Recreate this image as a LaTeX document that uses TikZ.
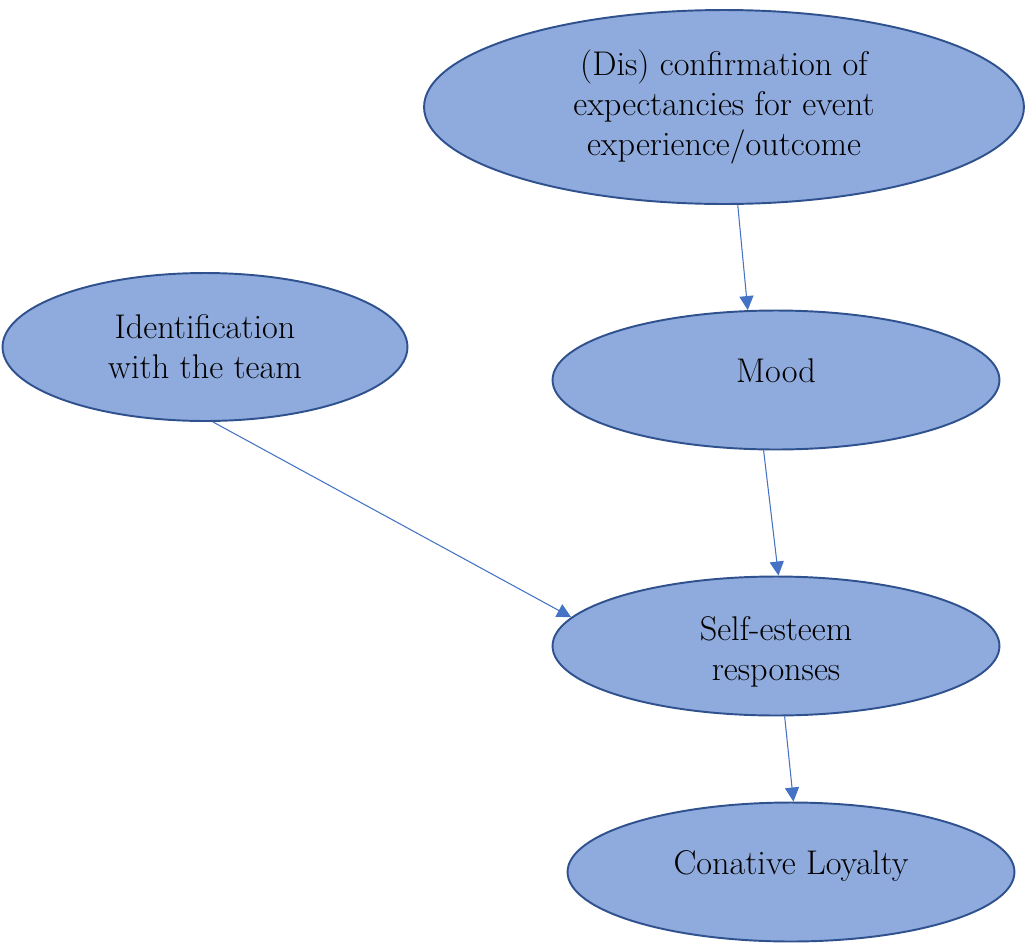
\documentclass[tikz,border=0pt]{standalone}
\usetikzlibrary{shapes.geometric,arrows.meta}
\definecolor{fillblue}{HTML}{8FAADC}
\definecolor{edgeblue}{HTML}{2F528F}
\definecolor{arrowblue}{HTML}{4472C4}
\tikzset{
  oval/.style={ellipse, draw=edgeblue, fill=fillblue, line width=1.1pt, inner sep=0pt,
    align=center, font=\fontsize{19.5}{22.8}\selectfont},
  link/.style={draw=arrowblue, line width=0.6pt, -{Triangle[length=8pt,width=8pt]}}
}
\newcommand{\upbit}[1]{\raisebox{11pt}{#1}}
\begin{document}
\begin{tikzpicture}[x=0.02cm,y=-0.02cm]
\useasboundingbox (0,0) rectangle (1025,944);
\node[oval, minimum width=12cm, minimum height=3.88cm] (conf) at (724,107) {(Dis) confirmation of\\expectancies for event\\experience/outcome};
\node[oval, minimum width=8.1cm, minimum height=2.96cm] (ident) at (205,347) {Identification\\with the team};
\node[oval, minimum width=8.94cm, minimum height=2.78cm] (mood) at (776,380) {\upbit{Mood}};
\node[oval, minimum width=8.94cm, minimum height=2.78cm] (self) at (776,646) {\rule{0pt}{20pt}Self-esteem\\responses};
\node[oval, minimum width=8.94cm, minimum height=2.78cm] (con) at (791,872) {\upbit{Conative Loyalty}};
\draw[link] (conf.-82) -- (mood.112);
\draw[link] (mood.-100) -- (self.88);
\draw[link] (ident.-84) -- (self.172);
\draw[link] (self.-83) -- (con.88);
\end{tikzpicture}
\end{document}
